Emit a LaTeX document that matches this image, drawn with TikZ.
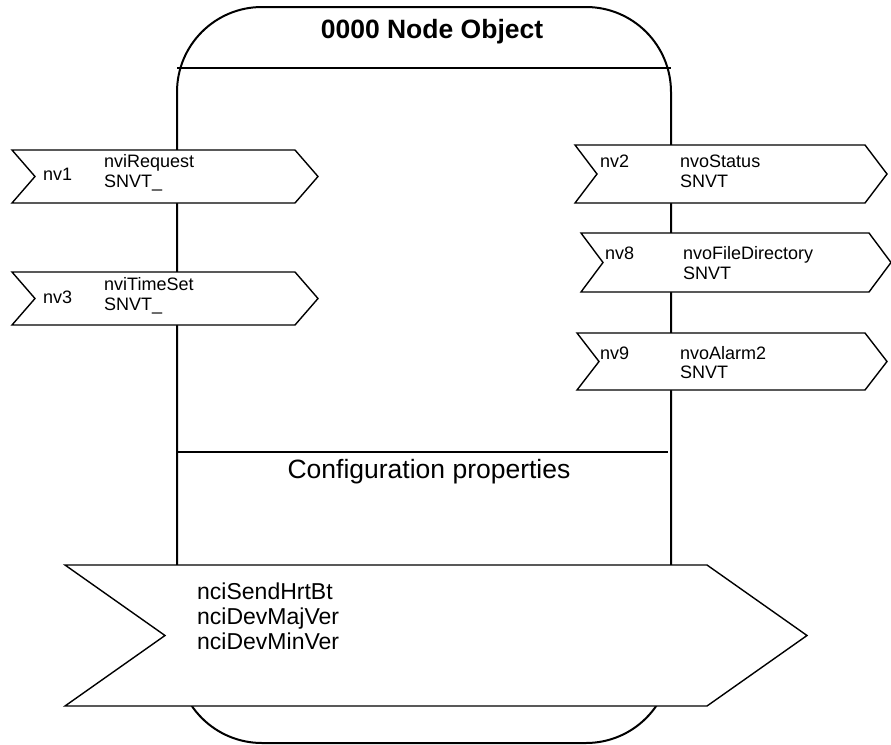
\documentclass[tikz,border=0pt]{standalone}
\usepackage{fontspec}
\setmainfont{Liberation Sans}
\tikzset{
  body/.style={draw=black, line width=2pt},
  divider/.style={draw=black, line width=1.3pt},
  chevron/.style={draw=black, fill=white, line width=1.4pt, line join=miter},
  lbl/.style={inner sep=0pt, anchor=mid west, font=\fontsize{18}{21}\selectfont},
  biglbl/.style={inner sep=0pt, anchor=mid west, font=\fontsize{23}{25}\selectfont},
  headlbl/.style={inner sep=0pt, font=\fontsize{26.5}{30}\selectfont},
}
% chevron: name, left x, right x (end of straight edge), top y, bottom y, point depth
\newcommand\chevronpath[6]{%
  \path[chevron] (#2,#4) coordinate (#1-nw) -- (#3,#4) -- ({#3+#6},{(#4+#5)/2}) coordinate (#1-tip)
    -- (#3,#5) -- (#2,#5) -- ({#2+#6},{(#4+#5)/2}) coordinate (#1-notch) -- cycle;}
\begin{document}
\begin{tikzpicture}[x=1pt,y=-1pt]
\useasboundingbox (0,0) rectangle (891,744);
\fill[white] (0,0) rectangle (891,744);

% object body with rounded ends
\draw[body, rounded corners=85pt] (177,7) rectangle (671,743);
\coordinate (tl) at (177,68);
\coordinate (tr) at (671,68);
\coordinate (cl) at (177,452);
\coordinate (cr) at (668,452);
\draw[divider] (tl) -- (tr);
\draw[divider] (cl) -- (cr);
\node[headlbl, font=\fontsize{26.5}{30}\selectfont\bfseries] (title) at (432,32) {0000 Node Object};
\node[headlbl] (cfg) at (429,472) {Configuration properties};

% input network variables
\chevronpath{nv1}{12}{295}{150}{203}{23}
\node[lbl] (nv1n) at (43,178) {nv1};
\node[lbl] (nv1a) at (104,165) {nviRequest};
\node[lbl] (nv1b) at (104,185) {SNVT\_};

\chevronpath{nv3}{12}{295}{272}{325}{23}
\node[lbl] (nv3n) at (43,301) {nv3};
\node[lbl] (nv3a) at (104,288) {nviTimeSet};
\node[lbl] (nv3b) at (104,308) {SNVT\_};

% output network variables
\chevronpath{nv2}{575}{865}{145}{203}{22}
\node[lbl] (nv2n) at (600,165) {nv2};
\node[lbl] (nv2a) at (680,165) {nvoStatus};
\node[lbl] (nv2b) at (680,185) {SNVT};

\chevronpath{nv8}{581}{869}{233}{292}{22}
\node[lbl] (nv8n) at (605,257) {nv8};
\node[lbl] (nv8a) at (683,257) {nvoFileDirectory};
\node[lbl] (nv8b) at (683,277) {SNVT};

\chevronpath{nv9}{577}{865}{333}{390}{22}
\node[lbl] (nv9n) at (600,357) {nv9};
\node[lbl] (nv9a) at (680,357) {nvoAlarm2};
\node[lbl] (nv9b) at (680,376) {SNVT};

% configuration properties
\chevronpath{cp}{65}{707}{565}{706}{100}
\node[biglbl] (cp1) at (197,597) {nciSendHrtBt};
\node[biglbl] (cp2) at (197,622) {nciDevMajVer};
\node[biglbl] (cp3) at (197,647) {nciDevMinVer};
\end{tikzpicture}
\end{document}
